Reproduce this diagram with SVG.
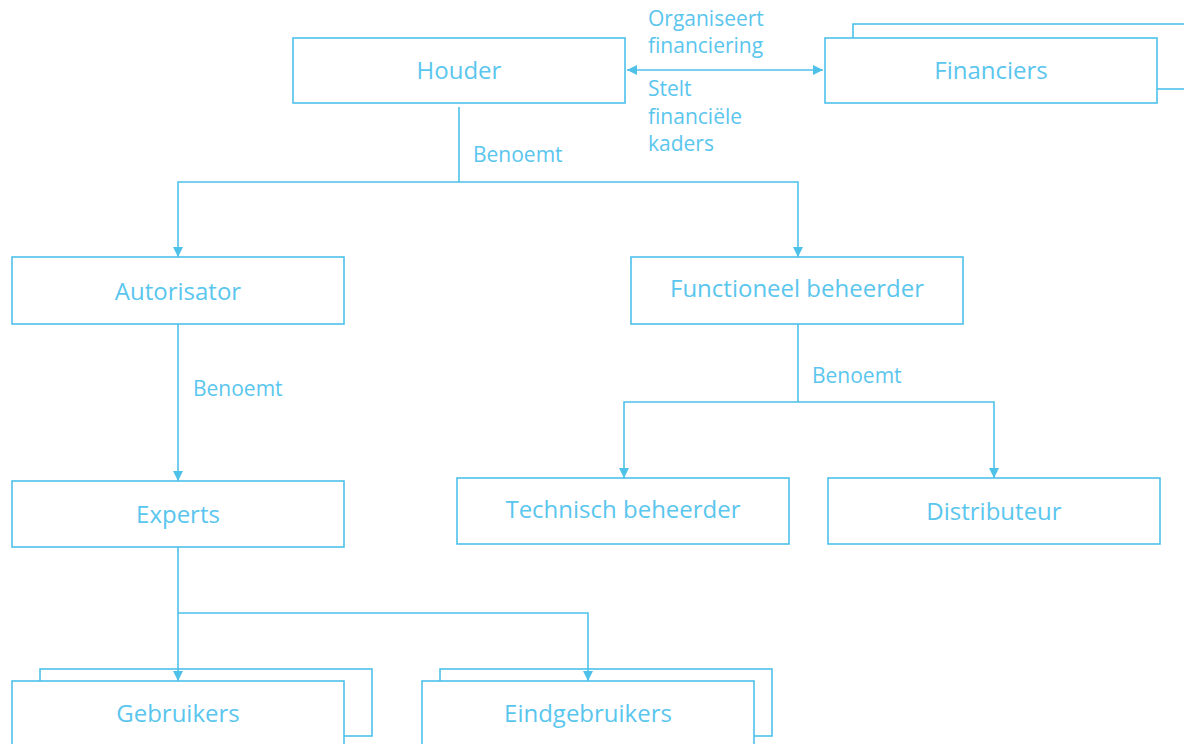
<svg xmlns="http://www.w3.org/2000/svg" width="1184" height="744" viewBox="0 0 1184 744">
  <style>
    .box { fill: #ffffff; stroke: #4ec1e9; stroke-width: 1.6; }
    .lbl { font-family: "Open Sans", "Liberation Sans", sans-serif; font-size: 24px; fill: #5ac6ee; text-anchor: middle; }
    .note { font-family: "Open Sans", "Liberation Sans", sans-serif; font-size: 21px; fill: #5ac6ee; }
    .wire { fill: none; stroke: #4ec1e9; stroke-width: 1.6; }
  </style>
  <defs>
    <marker id="arrow" viewBox="0 0 10 10" refX="10" refY="5" markerWidth="10" markerHeight="10" markerUnits="userSpaceOnUse" orient="auto-start-reverse">
      <path d="M0,0 L10,5 L0,10 z" fill="#4ec1e9"/>
    </marker>
  </defs>

  <rect width="1184" height="744" fill="#ffffff"/>

  <g id="houder">
    <rect class="box" x="293" y="38" width="332" height="65"/>
    <text class="lbl" x="459" y="79">Houder</text>
  </g>

  <g id="financiers">
    <rect class="box" x="853" y="24" width="350" height="65"/>
    <rect class="box" x="825" y="38" width="332" height="65"/>
    <text class="lbl" x="991" y="79">Financiers</text>
  </g>

  <g id="autorisator">
    <rect class="box" x="12" y="257" width="332" height="67"/>
    <text class="lbl" x="178" y="300">Autorisator</text>
  </g>

  <g id="functioneel-beheerder">
    <rect class="box" x="631" y="257" width="332" height="67"/>
    <text class="lbl" x="797" y="297">Functioneel beheerder</text>
  </g>

  <g id="experts">
    <rect class="box" x="12" y="481" width="332" height="66"/>
    <text class="lbl" x="178" y="523">Experts</text>
  </g>

  <g id="technisch-beheerder">
    <rect class="box" x="457" y="478" width="332" height="66"/>
    <text class="lbl" x="623" y="518">Technisch beheerder</text>
  </g>

  <g id="distributeur">
    <rect class="box" x="828" y="478" width="332" height="66"/>
    <text class="lbl" x="994" y="520">Distributeur</text>
  </g>

  <g id="gebruikers">
    <rect class="box" x="40" y="669" width="332" height="67"/>
    <rect class="box" x="12" y="681" width="332" height="80"/>
    <text class="lbl" x="178" y="722">Gebruikers</text>
  </g>

  <g id="eindgebruikers">
    <rect class="box" x="440" y="669" width="332" height="67"/>
    <rect class="box" x="422" y="681" width="332" height="80"/>
    <text class="lbl" x="588" y="722">Eindgebruikers</text>
  </g>

  <!-- connectors, drawn over the stacked boxes -->
  <g id="connectors">
    <line class="wire" x1="627" y1="70" x2="823" y2="70" marker-start="url(#arrow)" marker-end="url(#arrow)"/>
    <polyline class="wire" points="459,107 459,182"/>
    <polyline class="wire" points="459,182 178,182 178,257" marker-end="url(#arrow)"/>
    <polyline class="wire" points="459,182 798,182 798,257" marker-end="url(#arrow)"/>
    <polyline class="wire" points="178,324 178,481" marker-end="url(#arrow)"/>
    <polyline class="wire" points="798,324 798,402"/>
    <polyline class="wire" points="798,402 624,402 624,478" marker-end="url(#arrow)"/>
    <polyline class="wire" points="798,402 994,402 994,478" marker-end="url(#arrow)"/>
    <polyline class="wire" points="178,547 178,681" marker-end="url(#arrow)"/>
    <polyline class="wire" points="178,613 588,613 588,681" marker-end="url(#arrow)"/>
    <text class="note" x="648" y="26">Organiseert</text>
    <text class="note" x="648" y="53">financiering</text>
    <text class="note" x="648" y="96">Stelt</text>
    <text class="note" x="648" y="124">financiële</text>
    <text class="note" x="648" y="151">kaders</text>
    <text class="note" x="473" y="162">Benoemt</text>
    <text class="note" x="193" y="396">Benoemt</text>
    <text class="note" x="812" y="383">Benoemt</text>
  </g>
</svg>
